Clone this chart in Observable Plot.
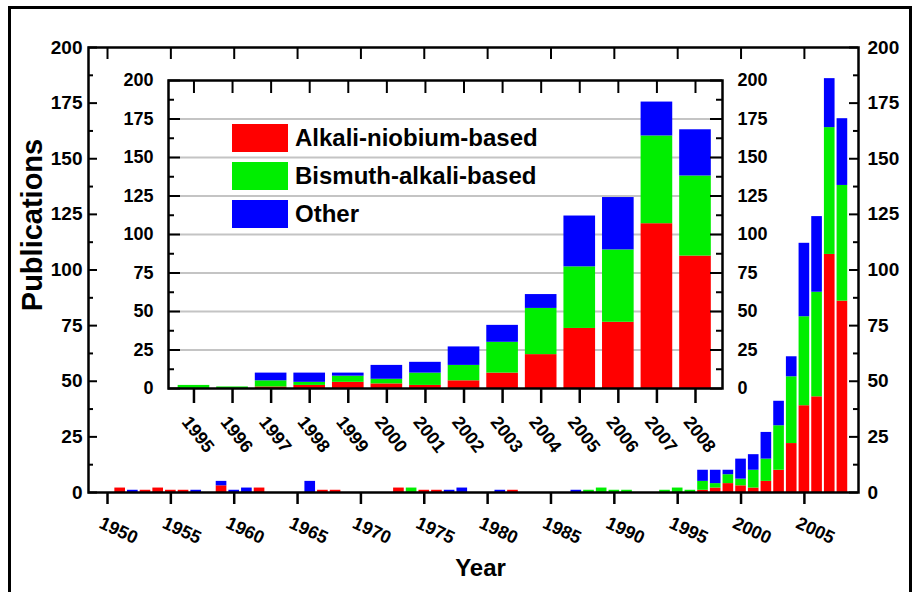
<!DOCTYPE html>
<html>
<head>
<meta charset="utf-8">
<script src="https://cdn.jsdelivr.net/npm/d3@7"></script>
<script src="https://cdn.jsdelivr.net/npm/@observablehq/plot@0.6"></script>
<style>
  body { margin: 0; background: #fff; }
  #chart { position: relative; width: 915px; height: 592px; overflow: hidden; background: #fff;
           font-family: "Liberation Sans", Arial, sans-serif; }
  #chart > svg { position: absolute; left: 0; top: 0; overflow: visible; }
  #outline { position: absolute; left: 8px; top: 6px; width: 898px; height: 600px; border: 3.5px solid #000; }
  #legend { position: absolute; left: 232px; top: 124px; }
  .entry { display: flex; align-items: center; height: 28px; margin-bottom: 10px; }
  .swatch { width: 56px; height: 28px; margin-right: 7px; }
  .entry span { font-size: 24px; font-weight: bold; color: #000; line-height: 28px; }
</style>
</head>
<body>
<div id="chart"><div id="outline"></div></div>
<script>
// Publications per year, 1950–2008, by material family
const years = [
  1950, 1951, 1952, 1953, 1954, 1955, 1956, 1957, 1958, 1959,
  1960, 1961, 1962, 1963, 1964, 1965, 1966, 1967, 1968, 1969,
  1970, 1971, 1972, 1973, 1974, 1975, 1976, 1977, 1978, 1979,
  1980, 1981, 1982, 1983, 1984, 1985, 1986, 1987, 1988, 1989,
  1990, 1991, 1992, 1993, 1994, 1995, 1996, 1997, 1998, 1999,
  2000, 2001, 2002, 2003, 2004, 2005, 2006, 2007, 2008
];
const alkaliNiobium = [
  0, 2, 0, 1, 2, 1, 1, 0, 0, 3,
  0, 0, 2, 0, 0, 0, 0, 1, 1, 0,
  0, 0, 0, 2, 0, 1, 1, 0, 0, 0,
  0, 0, 1, 0, 0, 0, 0, 0, 0, 0,
  0, 0, 0, 0, 0, 0, 0, 1, 2, 4,
  3, 2, 5, 10, 22, 39, 43, 107, 86
];
const bismuthAlkali = [
  0, 0, 0, 0, 0, 0, 0, 0, 0, 0,
  0, 0, 0, 0, 0, 0, 0, 0, 0, 0,
  0, 0, 0, 0, 2, 0, 0, 0, 0, 0,
  0, 0, 0, 0, 0, 0, 0, 0, 1, 2,
  1, 1, 0, 0, 1, 2, 1, 4, 2, 4,
  3, 8, 10, 20, 30, 40, 47, 57, 52
];
const other = [
  0, 0, 1, 0, 0, 0, 0, 1, 0, 2,
  1, 2, 0, 0, 0, 0, 5, 0, 0, 0,
  0, 0, 0, 0, 0, 0, 0, 1, 2, 0,
  0, 1, 0, 0, 0, 0, 0, 1, 0, 0,
  0, 0, 0, 0, 0, 0, 0, 5, 6, 2,
  9, 7, 12, 11, 9, 33, 34, 22, 30
];

const seriesNames = ["Alkali-niobium-based", "Bismuth-alkali-based", "Other"];
const seriesColors = ["#ff0000", "#00ee00", "#0000ff"];

const countTicks = [0, 25, 50, 75, 100, 125, 150, 175, 200];
const countMinorTicks = [12.5, 37.5, 62.5, 87.5, 112.5, 137.5, 162.5, 187.5];
const gridValues = [25, 50, 75, 100, 125, 150, 175];
const mainYearTicks = [1950, 1955, 1960, 1965, 1970, 1975, 1980, 1985, 1990, 1995, 2000, 2005];
const insetYearTicks = [1995, 1996, 1997, 1998, 1999, 2000, 2001, 2002, 2003, 2004, 2005, 2006, 2007, 2008];

// Stack the three families per year (red at the bottom, blue on top)
const stacked = [];
years.forEach((year, i) => {
  let base = 0;
  [alkaliNiobium, bismuthAlkali, other].forEach((values, s) => {
    const v = values[i];
    if (v > 0) stacked.push({year, series: seriesNames[s], y1: base, y2: base + v});
    base += v;
  });
});
const recent = stacked.filter(d => d.year >= insetYearTicks[0]);

const font = "'Liberation Sans', Arial, sans-serif";
const W = 915, H = 592;

// Main chart: full period
const mL = 88, mR = 57, mT = 47, mB = 100;
const mW = W - mL - mR, mH = H - mT - mB;
const main = Plot.plot({
  width: W, height: H,
  marginLeft: mL, marginRight: mR, marginTop: mT, marginBottom: mB,
  style: {background: "transparent", fontFamily: font, overflow: "visible"},
  x: {domain: [1948.5, 2009.27], axis: null},
  y: {domain: [0, 200], axis: null},
  color: {domain: seriesNames, range: seriesColors},
  marks: [
    Plot.rect(stacked, {x1: d => d.year - 0.42, x2: d => d.year + 0.42, y1: "y1", y2: "y2", fill: "series"}),
    Plot.frame({stroke: "#000", strokeWidth: 2.5}),
    // inward ticks on the left and right edges
    Plot.tickY(countTicks, {y: d => d, insetRight: mW - 9, stroke: "#000", strokeWidth: 2}),
    Plot.tickY(countMinorTicks, {y: d => d, insetRight: mW - 5, stroke: "#000", strokeWidth: 2}),
    Plot.tickY(countTicks, {y: d => d, insetLeft: mW - 9, stroke: "#000", strokeWidth: 2}),
    Plot.tickY(countMinorTicks, {y: d => d, insetLeft: mW - 5, stroke: "#000", strokeWidth: 2}),
    // year ticks: downward from the top edge, outward below the bottom edge
    Plot.tickX(mainYearTicks, {x: d => d, insetBottom: mH - 12, stroke: "#000", strokeWidth: 2}),
    Plot.tickX(mainYearTicks, {x: d => d, insetTop: mH, insetBottom: -12, stroke: "#000", strokeWidth: 2.5}),
    Plot.text(countTicks, {y: d => d, text: d => String(d), frameAnchor: "left", dx: -6, textAnchor: "end",
      fontSize: 19, fontWeight: "bold", fill: "#000"}),
    Plot.text(countTicks, {y: d => d, text: d => String(d), frameAnchor: "right", dx: 9, textAnchor: "start",
      fontSize: 19, fontWeight: "bold", fill: "#000"}),
    Plot.text(mainYearTicks, {x: d => d, text: d => String(d), frameAnchor: "bottom", dx: 11, dy: 38, rotate: 25,
      textAnchor: "middle", lineAnchor: "middle", fontSize: 18, fontWeight: "bold", fill: "#000"}),
    Plot.text(["Year"], {frameAnchor: "bottom", dx: 7, dy: 76, textAnchor: "middle", lineAnchor: "middle",
      fontSize: 24, fontWeight: "bold", fill: "#000"}),
    Plot.text(["Publications"], {frameAnchor: "left", dx: -56, dy: -45, rotate: -90,
      textAnchor: "middle", lineAnchor: "middle", fontSize: 29, fontWeight: "bold", fill: "#000"})
  ]
});

// Inset: close-up of 1995–2008
const iL = 168, iR = 193, iT = 80, iB = 204;
const iW = W - iL - iR, iH = H - iT - iB;
const inset = Plot.plot({
  width: W, height: H,
  marginLeft: iL, marginRight: iR, marginTop: iT, marginBottom: iB,
  style: {background: "transparent", fontFamily: font, overflow: "visible"},
  x: {domain: [1994.34, 2008.70], axis: null},
  y: {domain: [0, 200], axis: null},
  color: {domain: seriesNames, range: seriesColors},
  marks: [
    Plot.frame({fill: "#fff"}),
    Plot.ruleY(gridValues, {stroke: "#c4c4c4", strokeWidth: 2}),
    Plot.rect(recent, {x1: d => d.year - 0.41, x2: d => d.year + 0.41, y1: "y1", y2: "y2", fill: "series"}),
    Plot.frame({stroke: "#000", strokeWidth: 2.5}),
    Plot.tickY(countTicks, {y: d => d, insetRight: iW - 12, stroke: "#000", strokeWidth: 2}),
    Plot.tickY(countMinorTicks, {y: d => d, insetRight: iW - 6, stroke: "#000", strokeWidth: 2}),
    Plot.tickY(countTicks, {y: d => d, insetLeft: iW - 12, stroke: "#000", strokeWidth: 2}),
    Plot.tickY(countMinorTicks, {y: d => d, insetLeft: iW - 6, stroke: "#000", strokeWidth: 2}),
    Plot.tickX(insetYearTicks, {x: d => d, insetBottom: iH - 13, stroke: "#000", strokeWidth: 2}),
    Plot.tickX(insetYearTicks, {x: d => d, insetTop: iH, insetBottom: -15, stroke: "#000", strokeWidth: 2.5}),
    Plot.text(countTicks, {y: d => d, text: d => String(d), frameAnchor: "left", dx: -15, textAnchor: "end",
      fontSize: 18, fontWeight: "bold", fill: "#000"}),
    Plot.text(countTicks, {y: d => d, text: d => String(d), frameAnchor: "right", dx: 15, textAnchor: "start",
      fontSize: 18, fontWeight: "bold", fill: "#000"}),
    Plot.text(insetYearTicks, {x: d => d, text: d => String(d), frameAnchor: "bottom", dx: 4, dy: 46, rotate: 52,
      textAnchor: "middle", lineAnchor: "middle", fontSize: 18, fontWeight: "bold", fill: "#000"})
  ]
});

const chart = document.getElementById("chart");
chart.appendChild(main);
chart.appendChild(inset);

// Legend inside the inset
const legend = document.createElement("div");
legend.id = "legend";
seriesNames.forEach((name, i) => {
  const entry = document.createElement("div");
  entry.className = "entry";
  const sw = document.createElement("div");
  sw.className = "swatch";
  sw.style.background = seriesColors[i];
  const label = document.createElement("span");
  label.textContent = name;
  entry.appendChild(sw);
  entry.appendChild(label);
  legend.appendChild(entry);
});
chart.appendChild(legend);
</script>
</body>
</html>
